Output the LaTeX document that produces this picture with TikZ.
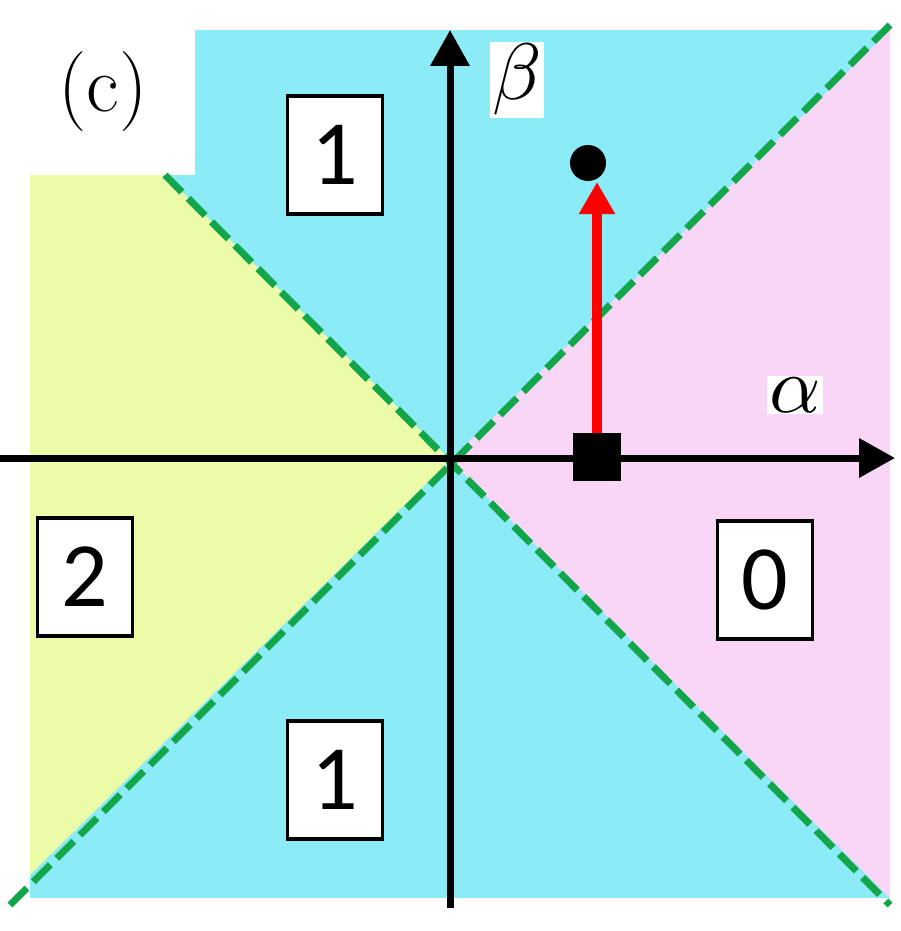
\documentclass[tikz,border=0pt]{standalone}
\usepackage{fontspec}
\setmainfont{Carlito}
\newfontfamily\lmr{Latin Modern Roman}
\usetikzlibrary{arrows.meta}
\definecolor{cy}{HTML}{8BECF8}
\definecolor{pk}{HTML}{F9D5F6}
\definecolor{yl}{HTML}{EBFBA8}
\definecolor{gr}{HTML}{12A54A}
\tikzset{numbox/.style={draw=black,line width=3.5pt,fill=white,minimum width=95pt,minimum height=118pt,inner sep=0pt,font=\fontsize{92}{92}\selectfont}}
\begin{document}
\begin{tikzpicture}[x=1pt,y=-1pt]
\useasboundingbox (0,0) rectangle (900,931);
\coordinate (O) at (450,460);
\fill[cy] (195,30) rectangle (890,898);
\fill[cy] (30,175) rectangle (195,898);
\fill[pk] (O) -- (890,30) -- (890,898) -- cycle;
\fill[yl] (O) -- (165,175) -- (30,175) -- (30,875) -- cycle;
\draw[gr,line width=7pt,dash pattern=on 24pt off 9pt] (10,905) -- (890,25);
\draw[gr,line width=7pt,dash pattern=on 24pt off 9pt] (165,175) -- (890,905);
\node[font=\lmr\fontsize{80}{80}\selectfont] (c) at (103,92) {(c)};
\draw[line width=7pt,-{Triangle[length=36pt,width=38pt]}] (450,908) -- (450,30);
\draw[line width=7pt,-{Triangle[length=36pt,width=38pt]}] (0,458) -- (895,458);
\node[fill=white,inner sep=2pt] (b) at (517,80) {\scalebox{8}{$\beta$}};
\node[fill=white,inner sep=2pt] (a) at (795,395) {\scalebox{8}{$\alpha$}};
\node[numbox] (n1) at (335,155) {1};
\node[numbox] (n2) at (85,577) {2};
\node[numbox] (n0) at (765,580) {0};
\node[numbox] (n3) at (335,780) {1};
\node[fill=black,minimum size=48pt,inner sep=0pt] (sq) at (597,457) {};
\node[circle,fill=black,minimum size=36pt,inner sep=0pt] (ci) at (588,163) {};
\draw[red,line width=10pt,-{Triangle[length=32pt,width=34pt]}] (sq.north) -- (597,182);
\end{tikzpicture}
\end{document}
